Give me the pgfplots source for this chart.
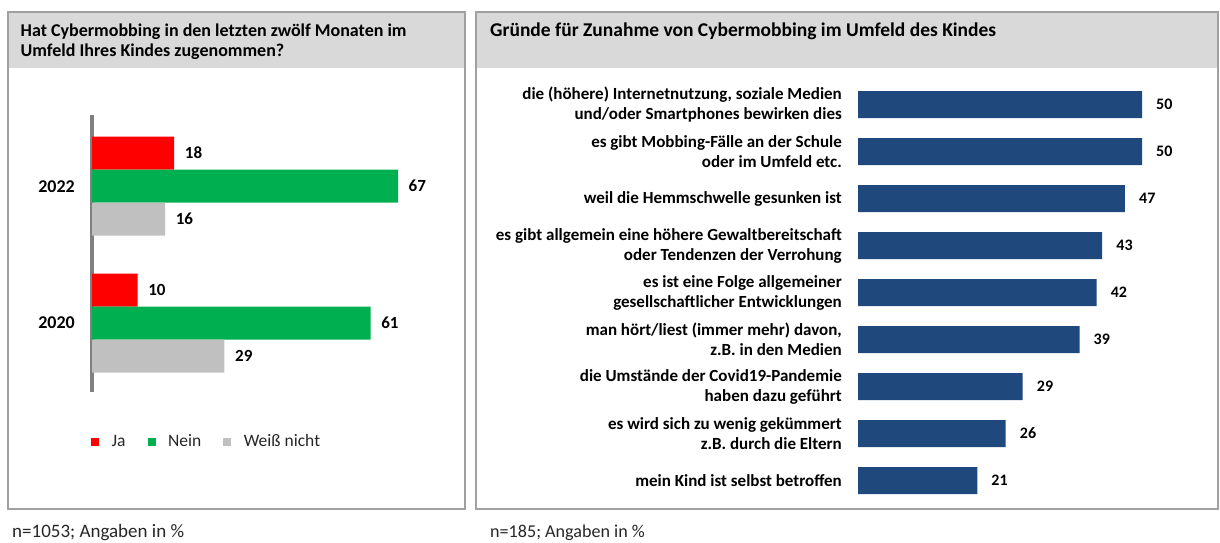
\documentclass[border=0pt]{standalone}
\usepackage{pgfplots}
\pgfplotsset{compat=1.18}
\usepackage{fontspec}
\setmainfont{Carlito}
\definecolor{jared}{HTML}{FF0000}
\definecolor{neingreen}{HTML}{00B050}
\definecolor{wngray}{HTML}{C0C0C0}
\definecolor{barblue}{HTML}{1F497D}
\definecolor{headgray}{HTML}{D9D9D9}
\definecolor{framegray}{HTML}{A0A0A0}
\definecolor{axgray}{HTML}{808080}
\definecolor{txtgray}{HTML}{262626}
\begin{document}
\begin{tikzpicture}
\path[use as bounding box] (0pt,0pt) rectangle (1220pt,542pt);
% panels
\fill[headgray] (8pt,474pt) rectangle (465pt,530pt);
\draw[framegray, line width=1.5pt] (8pt,33pt) rectangle (465pt,530pt);
\fill[headgray] (476pt,474pt) rectangle (1218pt,530pt);
\draw[framegray, line width=1.5pt] (476pt,33pt) rectangle (1218pt,530pt);
% titles
\node[anchor=base west, inner sep=0pt, font=\bfseries\fontsize{18}{20}\selectfont] at (20.5pt,505pt) {Hat Cybermobbing in den letzten zwölf Monaten im};
\node[anchor=base west, inner sep=0pt, font=\bfseries\fontsize{18}{20}\selectfont] at (20.5pt,485pt) {Umfeld Ihres Kindes zugenommen?};
\node[anchor=base west, inner sep=0pt, font=\bfseries\fontsize{19.5}{20}\selectfont] at (490pt,505pt) {Gründe für Zunahme von Cybermobbing im Umfeld des Kindes};
% footnotes
\node[anchor=base west, inner sep=0pt, text=txtgray, font=\fontsize{19}{20}\selectfont] at (12pt,5pt) {n=1053; Angaben in \%};
\node[anchor=base west, inner sep=0pt, text=txtgray, font=\fontsize{18.1}{20}\selectfont] at (490pt,5pt) {n=185; Angaben in \%};

\begin{axis}[
 at={(92pt,150pt)}, anchor=south west, scale only axis,
 width=365.4pt, height=276.7pt,
 xmin=0, xmax=80, ymin=-0.504, ymax=1.518,
 xbar, bar width=33pt,
 axis x line=none, axis y line*=left,
 y axis line style={axgray, line width=3.5pt},
 ytick={0,1}, yticklabels={\textbf{2020},\textbf{2022}},
 major tick length=0pt,
 yticklabel style={font=\bfseries\fontsize{18}{20}\selectfont, inner sep=0pt, xshift=-17pt},
 /pgf/number format/assume math mode=true,
 nodes near coords,
 every node near coord/.append style={font=\bfseries\fontsize{17}{20}\selectfont, anchor=west, inner sep=0pt, xshift=10.5pt, text=black},
 legend columns=3,
 legend image code/.code={\fill[#1] (0pt,-4pt) rectangle (8pt,4pt);},
 legend style={draw=none, fill=none, at={(axis description cs:-0.003,-0.181)}, anchor=west, inner sep=0pt, nodes={inner sep=0pt, text=txtgray, text height=12pt, text depth=4pt}, font=\fontsize{17.5}{20}\selectfont,
   /tikz/every odd column/.append style={column sep=12.5pt},
   /tikz/every even column/.append style={column sep=22pt}},
]
\addplot[fill=jared, draw=none, bar shift=33pt] coordinates {(18,1) (10,0)};
\addplot[fill=neingreen, draw=none, bar shift=0pt] coordinates {(67,1) (61,0)};
\addplot[fill=wngray, draw=none, bar shift=-33pt] coordinates {(16,1) (29,0)};
\legend{Ja, Nein, Weiß nicht}
\end{axis}

\begin{axis}[
 at={(858pt,38pt)}, anchor=south west, scale only axis,
 width=340.8pt, height=423pt,
 xmin=0, xmax=60, ymin=-0.5, ymax=8.5, y dir=reverse,
 xbar, bar width=27pt,
 axis x line=none, axis y line*=left, y axis line style={draw=none},
 ytick={0,...,8},
 yticklabels={
  {die (höhere) Internetnutzung, soziale Medien\\und/oder Smartphones bewirken dies},
  {es gibt Mobbing-Fälle an der Schule\\oder im Umfeld etc.},
  {weil die Hemmschwelle gesunken ist},
  {es gibt allgemein eine höhere Gewaltbereitschaft\\oder Tendenzen der Verrohung},
  {es ist eine Folge allgemeiner\hspace{4pt}\\gesellschaftlicher Entwicklungen},
  {man hört/liest (immer mehr) davon,\\z.B. in den Medien\hspace{4pt}},
  {die Umstände der Covid19-Pandemie\\haben dazu geführt},
  {es wird sich zu wenig gekümmert\\z.B. durch die Eltern},
  {mein Kind ist selbst betroffen}},
 major tick length=0pt,
 yticklabel style={align=right, font=\bfseries\fontsize{17}{20}\selectfont, inner sep=0pt, xshift=-16pt},
 /pgf/number format/assume math mode=true,
 nodes near coords,
 every node near coord/.append style={font=\bfseries\fontsize{16}{20}\selectfont, anchor=west, inner sep=0pt, xshift=14pt, text=black},
]
\addplot[fill=barblue, draw=none] coordinates {(50,0) (50,1) (47,2) (43,3) (42,4) (39,5) (29,6) (26,7) (21,8)};
\end{axis}
\end{tikzpicture}
\end{document}
